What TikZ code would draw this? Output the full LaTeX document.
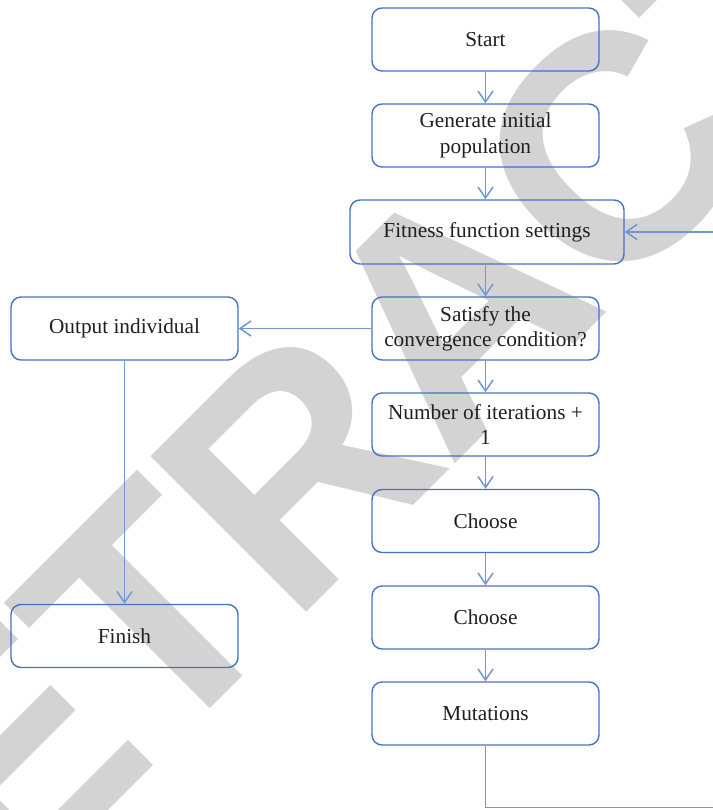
\documentclass[tikz,border=0pt]{standalone}
\usepackage{fontspec}
\setmainfont{Liberation Serif}
\newfontfamily\wmfont{Liberation Sans}[LetterSpace=-2.0]
\usetikzlibrary{arrows.meta}
\definecolor{boxblue}{RGB}{68,114,196}
\definecolor{linkblue}{RGB}{112,150,214}
\definecolor{wmgray}{RGB}{211,211,211}
\tikzset{
  stepbox/.style={draw=boxblue, line width=1.4pt, rounded corners=10pt,
    minimum width=227pt, minimum height=63pt, inner sep=2pt, align=center,
    font=\fontsize{21.3}{25.3}\selectfont, text=black!88},
  link/.style={draw=linkblue, line width=1.5pt,
    -{Straight Barb[length=11pt,width=15pt,line width=1.5pt]}},
  plainlink/.style={draw=linkblue, line width=1.5pt},
}
\begin{document}
\begin{tikzpicture}[x=1pt, y=-1pt]
\useasboundingbox (0,0) rectangle (712,810);

% background stamp
\node[rotate=45, anchor=base west, inner sep=0pt, text=wmgray,
  font=\wmfont\bfseries\fontsize{320}{320}\selectfont] (stamp) at (-148,1067) {RETRACTED};

% main column
\node[stepbox] (start)  at (485.5,39.5)  {Start};
\node[stepbox] (init)   at (485.5,135.5) {Generate initial\\population};
\node[stepbox, minimum width=274pt, minimum height=64pt] (fit) at (487,232) {Fitness function settings};
\node[stepbox] (conv)   at (485.5,328.5) {Satisfy the\\convergence condition?};
\node[stepbox] (iter)   at (485.5,424.5) {Number of iterations +\\1};
\node[stepbox] (sel1)   at (485.5,521)   {Choose};
\node[stepbox] (sel2)   at (485.5,617.5) {Choose};
\node[stepbox] (mut)    at (485.5,713.5) {Mutations};

% left column
\node[stepbox] (out)    at (124.5,328.5) {Output individual};
\node[stepbox] (fin)    at (124.5,636)   {Finish};

% loop-back corners
\coordinate (loopA) at (485.5,807.5);
\coordinate (loopB) at (714,807.5);
\coordinate (loopC) at (714,232);

% connectors
\draw[link] (start) -- (init);
\draw[link] (init.south) -- (init.south |- fit.north);
\draw[link] (fit.south -| conv.north) -- (conv.north);
\draw[link] (conv) -- (iter);
\draw[link] (iter) -- (sel1);
\draw[link] (sel1) -- (sel2);
\draw[link] (sel2) -- (mut);
\draw[link] (conv.west) -- (out.east);
\draw[link] (out) -- (fin);
\draw[plainlink] (mut.south) -- (loopA) -- (loopB) -- (loopC);
\draw[link] (loopC) -- (fit.east);
\end{tikzpicture}
\end{document}
